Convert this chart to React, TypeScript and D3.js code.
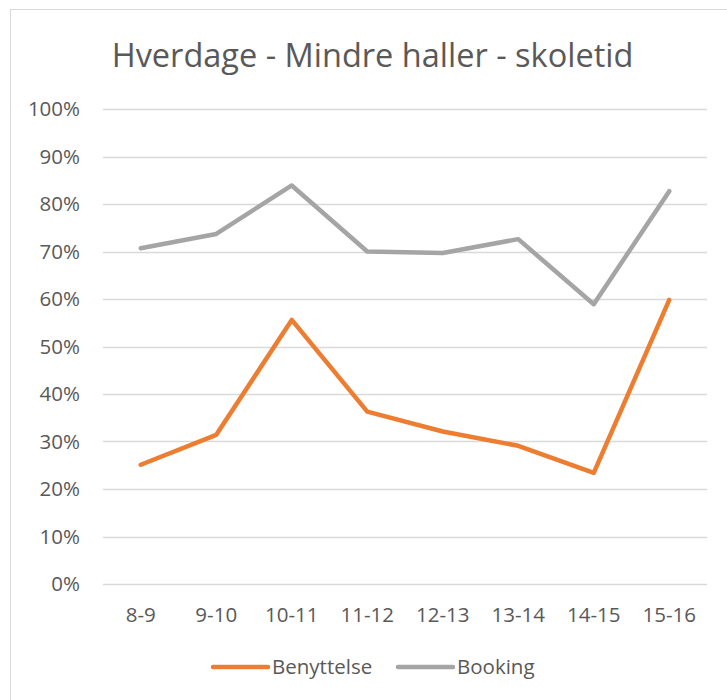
import React, { useEffect, useRef } from "react";
import * as d3 from "d3";

const categories = ["8-9", "9-10", "10-11", "11-12", "12-13", "13-14", "14-15", "15-16"];
const benyttelse = [25.1, 31.4, 55.6, 36.3, 32.1, 29.1, 23.4, 59.8];
const booking = [70.7, 73.7, 83.9, 70.0, 69.7, 72.6, 58.9, 82.7];
const yTicks = [0, 10, 20, 30, 40, 50, 60, 70, 80, 90, 100];
const seriesNames = ["Benyttelse", "Booking"];
const colors = ["#ED7D31", "#A5A5A5"];

const App = () => {
  const svgRef = useRef<SVGSVGElement>(null);

  useEffect(() => {
    document.body.style.margin = "0";
    const width = 727;
    const height = 700;
    const font = "'Open Sans', sans-serif";

    const svg = d3.select(svgRef.current).attr("width", width).attr("height", height);
    svg.selectAll("*").remove();

    // chart area border
    svg
      .append("rect")
      .attr("x", 10.5)
      .attr("y", 9.5)
      .attr("width", 740)
      .attr("height", 720)
      .attr("fill", "#fff")
      .attr("stroke", "#d9d9d9");

    svg
      .append("text")
      .attr("x", 372.5)
      .attr("y", 67)
      .attr("text-anchor", "middle")
      .attr("font-family", font)
      .attr("font-size", 32.5)
      .attr("fill", "#595959")
      .text("Hverdage - Mindre haller - skoletid");

    const x = d3.scaleBand().domain(categories).range([103, 707]);
    const y = d3.scaleLinear().domain([0, 100]).range([584, 109]);

    // gridlines
    svg
      .append("g")
      .selectAll("line")
      .data(yTicks)
      .enter()
      .append("line")
      .attr("x1", 103)
      .attr("x2", 707)
      .attr("y1", (d) => Math.round(y(d)) + 0.5)
      .attr("y2", (d) => Math.round(y(d)) + 0.5)
      .attr("stroke", "#d9d9d9")
      .attr("stroke-width", 1.3);

    svg
      .append("g")
      .selectAll("text")
      .data(yTicks)
      .enter()
      .append("text")
      .attr("x", 80)
      .attr("y", (d) => y(d))
      .attr("dy", "0.36em")
      .attr("text-anchor", "end")
      .attr("font-family", font)
      .attr("font-size", 20.5)
      .attr("fill", "#595959")
      .text((d) => d + "%");

    svg
      .append("g")
      .selectAll("text")
      .data(categories)
      .enter()
      .append("text")
      .attr("x", (d) => x(d)! + x.bandwidth() / 2)
      .attr("y", 622)
      .attr("text-anchor", "middle")
      .attr("font-family", font)
      .attr("font-size", 20.5)
      .attr("fill", "#595959")
      .text((d) => d);

    const line = d3
      .line<number>()
      .x((d, i) => x(categories[i])! + x.bandwidth() / 2)
      .y((d) => y(d));

    [benyttelse, booking].forEach((s, i) => {
      svg
        .append("path")
        .attr("d", line(s))
        .attr("fill", "none")
        .attr("stroke", colors[i])
        .attr("stroke-width", 4.5)
        .attr("stroke-linecap", "round")
        .attr("stroke-linejoin", "round");
    });

    // legend
    const legendX = [213, 398];
    seriesNames.forEach((name, i) => {
      const g = svg.append("g").attr("transform", `translate(${legendX[i]},667)`);
      g.append("line")
        .attr("x1", 0)
        .attr("x2", 55)
        .attr("stroke", colors[i])
        .attr("stroke-width", 4.5)
        .attr("stroke-linecap", "round");
      g.append("text")
        .attr("x", 59)
        .attr("dy", "0.36em")
        .attr("font-family", font)
        .attr("font-size", 20.5)
        .attr("fill", "#595959")
        .text(name);
    });
  }, []);

  return <svg ref={svgRef}></svg>;
};

export default App;
